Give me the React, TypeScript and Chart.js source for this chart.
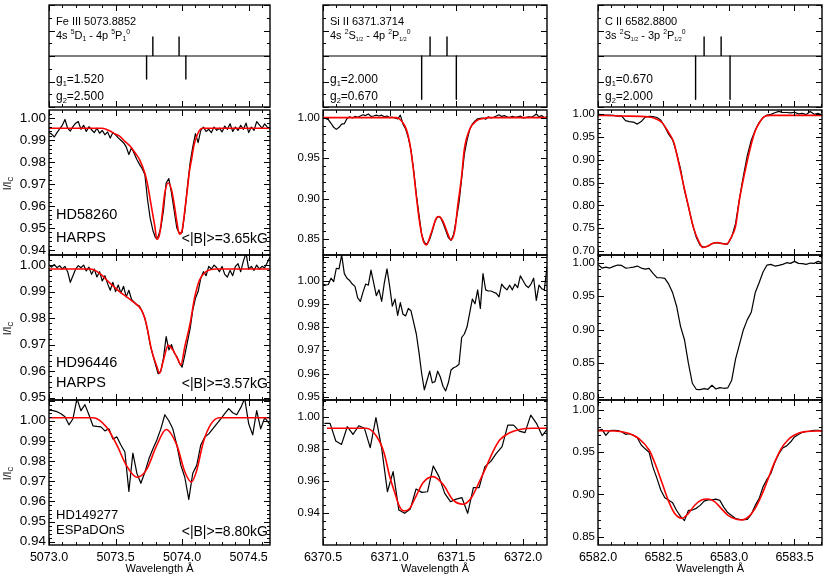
import React, { useEffect, useRef } from "react";
import { Chart, registerables } from "chart.js";
Chart.register(...registerables);

const W = 830;
const H = 581;
const FONT = "'Liberation Sans', Arial, Helvetica, sans-serif";

// ------------------------------------------------------------------ data
// wavelength ranges of the three columns
const FE_RANGE = [5073.0, 5074.66];
const SI_RANGE = [6370.5, 6372.18];
const C_RANGE = [6582.0, 6583.71];

// x tick labels
const FE_XTICKS = ["5073.0", "5073.5", "5074.0", "5074.5"];
const SI_XTICKS = ["6370.5", "6371.0", "6371.5", "6372.0"];
const C_XTICKS = ["6582.0", "6582.5", "6583.0", "6583.5"];

// y tick labels per panel
const FE_YTICKS = [
  ["0.94", "0.95", "0.96", "0.97", "0.98", "0.99", "1.00"],
  ["0.95", "0.96", "0.97", "0.98", "0.99", "1.00"],
  ["0.94", "0.95", "0.96", "0.97", "0.98", "0.99", "1.00"],
];
const SI_YTICKS = [
  ["0.85", "0.90", "0.95", "1.00"],
  ["0.95", "0.96", "0.97", "0.98", "0.99", "1.00"],
  ["0.94", "0.96", "0.98", "1.00"],
];
const C_YTICKS = [
  ["0.70", "0.75", "0.80", "0.85", "0.90", "0.95", "1.00"],
  ["0.80", "0.85", "0.90", "0.95", "1.00"],
  ["0.85", "0.90", "0.95", "1.00"],
];

// Zeeman patterns (pi up, sigma down)
const FE_PI_WL = [5073.78, 5073.977];
const FE_PI_STR = [0.38, 0.38];
const FE_SIGMA_WL = [5073.733, 5074.028];
const FE_SIGMA_STR = [-0.45, -0.45];
const SI_PI_WL = [6371.303, 6371.43];
const SI_PI_STR = [0.38, 0.38];
const SI_SIGMA_WL = [6371.24, 6371.50];
const SI_SIGMA_STR = [-0.85, -0.85];
const C_PI_WL = [6582.81, 6582.94];
const C_PI_STR = [0.38, 0.38];
const C_SIGMA_WL = [6582.745, 6583.008];
const C_SIGMA_STR = [-0.85, -0.85];

// ---- Fe III 5073.89
const FE_HD58260_START = 5073.0;
const FE_HD58260_STEP = 0.02;
const FE_HD58260_OBS = [
  0.9935, 0.9928, 0.9915, 0.9935, 0.9952, 0.9968, 0.9995, 0.9955, 0.9942, 0.9962,
  0.9978, 0.9985, 0.9950, 0.9968, 0.9940, 0.9962, 0.9948, 0.9935, 0.9955, 0.9932,
  0.9945, 0.9925, 0.9938, 0.9910, 0.9935, 0.9925, 0.9911, 0.9900, 0.9889, 0.9870,
  0.9835, 0.9866, 0.9840, 0.9812, 0.9790, 0.9770, 0.9744, 0.9630, 0.9545, 0.9490,
  0.9455, 0.9460, 0.9500, 0.9580, 0.9705, 0.9725, 0.9660, 0.9580, 0.9500, 0.9475,
  0.9480, 0.9570, 0.9690, 0.9797, 0.9870, 0.9930, 0.9889, 0.9945, 0.9960, 0.9940,
  0.9950, 0.9935, 0.9960, 0.9945, 0.9955, 0.9938, 0.9965, 0.9950, 0.9975, 0.9940,
  0.9960, 0.9945, 0.9968, 0.9950, 0.9978, 0.9935, 0.9960, 0.9945, 0.9985, 0.9970,
  0.9955, 0.9975, 0.9960, 0.9950,
];
const FE_HD58260_FIT_WL = [
  5073.0, 5073.4, 5073.45, 5073.5, 5073.53, 5073.57, 5073.61, 5073.65, 5073.68, 5073.72,
  5073.74, 5073.76, 5073.78, 5073.795, 5073.81, 5073.83, 5073.85, 5073.87, 5073.895, 5073.92,
  5073.94, 5073.96, 5073.98, 5074.0, 5074.02, 5074.04, 5074.055, 5074.07, 5074.09, 5074.11,
  5074.13, 5074.15, 5074.66,
];
const FE_HD58260_FIT = [
  0.9955, 0.9955, 0.9945, 0.9928, 0.9919, 0.9895, 0.9873, 0.9840, 0.9812, 0.9750,
  0.9700, 0.9630, 0.9560, 0.9507, 0.9448, 0.9470, 0.9560, 0.9660, 0.9705, 0.9675,
  0.9610, 0.9530, 0.9472, 0.9490, 0.9580, 0.9680, 0.9760, 0.9810, 0.9880, 0.9919,
  0.9945, 0.9955, 0.9955,
];

const FE_HD96446_START = 5073.0;
const FE_HD96446_STEP = 0.02;
const FE_HD96446_OBS = [
  1.0000, 0.9992, 1.0002, 0.9990, 0.9998, 0.9985, 0.9995, 0.9975, 0.9935, 0.9960,
  0.9985, 0.9998, 0.9990, 1.0000, 0.9978, 0.9992, 0.9965, 0.9985, 0.9955, 0.9975,
  0.9940, 0.9960, 0.9930, 0.9905, 0.9935, 0.9900, 0.9925, 0.9895, 0.9920, 0.9880,
  0.9905, 0.9870, 0.9860, 0.9850, 0.9845, 0.9825, 0.9800, 0.9755, 0.9700, 0.9660,
  0.9625, 0.9590, 0.9600, 0.9650, 0.9730, 0.9680, 0.9700, 0.9670, 0.9655, 0.9630,
  0.9615, 0.9660, 0.9710, 0.9760, 0.9830, 0.9875, 0.9900, 0.9950, 0.9975, 0.9960,
  0.9995, 0.9985, 1.0000, 0.9990, 0.9975, 0.9995, 0.9965, 0.9955, 0.9980, 0.9960,
  0.9995, 1.0005, 0.9975, 1.0015, 1.0045, 0.9985, 0.9995, 0.9980, 1.0000, 0.9985,
  0.9995, 0.9990, 1.0010, 1.0030,
];
const FE_HD96446_FIT_WL = [
  5073.0, 5073.31, 5073.38, 5073.46, 5073.53, 5073.63, 5073.695, 5073.73, 5073.77, 5073.81,
  5073.83, 5073.86, 5073.895, 5073.93, 5073.97, 5073.99, 5074.02, 5074.06, 5074.095, 5074.13,
  5074.18, 5074.26, 5074.66,
];
const FE_HD96446_FIT = [
  0.9985, 0.9985, 0.9969, 0.9931, 0.9900, 0.9862, 0.9830, 0.9780, 0.9680, 0.9617,
  0.9592, 0.9642, 0.9697, 0.9680, 0.9642, 0.9623, 0.9692, 0.9780, 0.9880, 0.9943,
  0.9975, 0.9985, 0.9985,
];

const FE_HD149277_START = 5073.0;
const FE_HD149277_STEP = 0.03;
const FE_HD149277_OBS = [
  1.0053, 1.0050, 1.0045, 1.0035, 1.0020, 0.9980, 1.0010, 1.0110, 1.0050, 1.0080,
  1.0030, 0.9975, 0.9972, 0.9970, 0.9950, 0.9960, 0.9910, 0.9920, 0.9880, 0.9845,
  0.9650, 0.9840, 0.9740, 0.9690, 0.9745, 0.9810, 0.9860, 0.9905, 0.9960, 1.0030,
  1.0000, 0.9960, 0.9880, 0.9780, 0.9720, 0.9610, 0.9740, 0.9780, 0.9880, 0.9920,
  0.9935, 0.9960, 0.9985, 1.0010, 1.0035, 1.0060, 1.0040, 1.0030, 1.0065, 1.0110,
  0.9985, 0.9930, 1.0050, 0.9960, 1.0015, 0.9990, 0.9950,
];
const FE_HD149277_FIT_WL = [
  5073.0, 5073.33, 5073.43, 5073.51, 5073.58, 5073.66, 5073.73, 5073.81, 5073.88, 5073.96,
  5074.02, 5074.07, 5074.11, 5074.16, 5074.22, 5074.28, 5074.66,
];
const FE_HD149277_FIT = [
  1.0015, 1.0015, 0.9970, 0.9879, 0.9780, 0.9720, 0.9755, 0.9879, 0.9957, 0.9879,
  0.9747, 0.9696, 0.9755, 0.9896, 0.9987, 1.0015, 1.0015,
];

// ---- Si II 6371.37
const SI_HD58260_START = 6370.5;
const SI_HD58260_STEP = 0.02;
const SI_HD58260_OBS = [
  1.0000, 0.9990, 0.9975, 0.9930, 0.9880, 0.9855, 0.9880, 0.9920, 0.9925, 0.9990,
  1.0010, 0.9995, 1.0015, 1.0005, 1.0020, 1.0035, 1.0025, 1.0045, 1.0015, 1.0020,
  1.0030, 1.0020, 1.0030, 1.0010, 1.0020, 1.0000, 1.0005, 0.9995, 0.9985, 1.0030,
  0.9920, 0.9860, 0.9750, 0.9600, 0.9350, 0.9050, 0.8800, 0.8560, 0.8460, 0.8435,
  0.8500, 0.8600, 0.8720, 0.8780, 0.8770, 0.8700, 0.8610, 0.8520, 0.8485, 0.8560,
  0.8750, 0.8950, 0.9250, 0.9550, 0.9720, 0.9850, 0.9920, 0.9960, 0.9985, 0.9990,
  0.9995, 0.9980, 1.0010, 0.9995, 1.0005, 1.0020, 1.0035, 1.0015, 1.0025, 1.0010,
  1.0000, 1.0015, 1.0005, 1.0010, 1.0020, 0.9995, 1.0000, 1.0010, 1.0005, 1.0020,
  1.0045, 1.0010, 1.0025, 1.0000, 1.0005,
];
const SI_HD58260_FIT_WL = [
  6370.5, 6371.05, 6371.09, 6371.125, 6371.15, 6371.175, 6371.2, 6371.225, 6371.25, 6371.275,
  6371.31, 6371.35, 6371.37, 6371.4, 6371.44, 6371.46, 6371.49, 6371.51, 6371.54, 6371.56,
  6371.6, 6371.65, 6371.7, 6371.75, 6372.18,
];
const SI_HD58260_FIT = [
  1.0, 1.0, 0.9959, 0.9855, 0.969, 0.94, 0.903, 0.87, 0.849, 0.843,
  0.857, 0.876, 0.878, 0.872, 0.855, 0.849, 0.862, 0.8905, 0.928, 0.961,
  0.9855, 0.996, 0.999, 1.0, 1.0,
];

const SI_HD96446_START = 6370.5;
const SI_HD96446_STEP = 0.02;
const SI_HD96446_OBS = [
  0.9985, 0.9981, 0.9983, 1.0010, 0.9995, 1.0053, 1.0050, 1.0110, 1.0030, 1.0010,
  1.0000, 0.9985, 0.9975, 0.9925, 0.9910, 0.9950, 0.9985, 0.9980, 1.0045, 0.9990,
  0.9935, 0.9960, 0.9910, 0.9990, 1.0050, 0.9975, 0.9890, 0.9920, 0.9850, 0.9905,
  0.9855, 0.9848, 0.9880, 0.9870, 0.9820, 0.9770, 0.9690, 0.9600, 0.9530, 0.9570,
  0.9610, 0.9560, 0.9565, 0.9610, 0.9585, 0.9545, 0.9525, 0.9560, 0.9615, 0.9625,
  0.9630, 0.9640, 0.9755, 0.9770, 0.9800, 0.9860, 0.9920, 0.9900, 0.9960, 0.9880,
  1.0030, 0.9960, 0.9955, 0.9955, 0.9950, 0.9945, 0.9930, 0.9985, 0.9970, 0.9960,
  0.9980, 0.9960, 0.9985, 0.9970, 1.0020, 1.0000, 0.9980, 0.9970, 0.9985, 1.0010,
  0.9915, 0.9980, 0.9965, 0.9960, 1.0060,
];

const SI_HD149277_START = 6370.51;
const SI_HD149277_STEP = 0.043;
const SI_HD149277_OBS = [
  0.9959, 0.9959, 0.9849, 0.9828, 0.9938, 0.9890, 0.9944, 0.9928, 0.9808, 0.9994,
  0.9805, 0.9534, 0.9659, 0.9420, 0.9400, 0.9427, 0.9551, 0.9530, 0.9534, 0.9694,
  0.9628, 0.9524, 0.9472, 0.9488, 0.9497, 0.9400, 0.9559, 0.9559, 0.9690, 0.9721,
  0.9772, 0.9814, 0.9948, 0.9948, 0.9911, 0.9901, 1.0010, 0.9959, 0.9882, 0.9928,
];
const SI_HD149277_FIT_WL = [
  6370.53, 6370.825, 6370.875, 6370.925, 6370.96, 6371.0, 6371.04, 6371.075, 6371.11, 6371.15,
  6371.2, 6371.25, 6371.325, 6371.4, 6371.475, 6371.55, 6371.61, 6371.675, 6371.725, 6371.775,
  6371.825, 6371.9, 6371.975, 6372.075, 6372.18,
];
const SI_HD149277_FIT = [
  0.9928, 0.9928, 0.9907, 0.9845, 0.977, 0.963, 0.9524, 0.944, 0.9414, 0.943,
  0.951, 0.959, 0.9628, 0.958, 0.9483, 0.9456, 0.9493, 0.960, 0.969, 0.9783,
  0.9855, 0.990, 0.9921, 0.9928, 0.9928,
];

// ---- C II 6582.88
const C_HD58260_START = 6582.0;
const C_HD58260_STEP = 0.03;
const C_HD58260_OBS = [
  1.0000, 0.9995, 0.9985, 0.9982, 0.9975, 0.9960, 0.9965, 0.9860, 0.9840, 0.9830,
  0.9785, 0.9840, 0.9940, 0.9955, 0.9950, 0.9930, 0.9870, 0.9730, 0.9560, 0.9440,
  0.9150, 0.8800, 0.8330, 0.7980, 0.7600, 0.7300, 0.7120, 0.7080, 0.7105, 0.7160,
  0.7180, 0.7170, 0.7160, 0.7150, 0.7300, 0.7600, 0.8150, 0.8650, 0.9100, 0.9430,
  0.9650, 0.9820, 0.9930, 0.9985, 1.0000, 1.0035, 1.0065, 1.0040, 1.0040, 1.0030,
  1.0045, 1.0010, 1.0020, 0.9995, 1.0060, 1.0000, 1.0020, 0.9990,
];
const C_HD58260_FIT_WL = [
  6582.0, 6582.18, 6582.39, 6582.44, 6582.49, 6582.54, 6582.58, 6582.61, 6582.65, 6582.69,
  6582.73, 6582.77, 6582.80, 6582.84, 6582.88, 6582.91, 6582.94, 6582.98, 6583.02, 6583.05,
  6583.08, 6583.12, 6583.16, 6583.20, 6583.24, 6583.27, 6583.32, 6583.71,
];
const C_HD58260_FIT = [
  0.9978, 0.9963, 0.9941, 0.9904, 0.9816, 0.9596, 0.9375, 0.9007, 0.849, 0.798,
  0.750, 0.7206, 0.7074, 0.711, 0.7169, 0.7184, 0.7162, 0.7147, 0.7316, 0.754,
  0.8125, 0.8713, 0.9228, 0.9632, 0.9853, 0.9949, 0.9978, 0.9978,
];

const C_HD96446_START = 6582.0;
const C_HD96446_STEP = 0.03;
const C_HD96446_OBS = [
  0.9975, 0.9920, 0.9935, 0.9920, 0.9945, 0.9965, 0.9960, 0.9920, 0.9925, 0.9935,
  0.9950, 0.9920, 0.9905, 0.9915, 0.9840, 0.9776, 0.9775, 0.9765, 0.9680, 0.9550,
  0.9350, 0.9050, 0.8850, 0.8500, 0.8200, 0.8110, 0.8105, 0.8120, 0.8110, 0.8170,
  0.8115, 0.8135, 0.8125, 0.8130, 0.8240, 0.8560, 0.8780, 0.9000, 0.9150, 0.9260,
  0.9550, 0.9700, 0.9860, 0.9965, 0.9975, 0.9950, 0.9960, 0.9975, 1.0000, 0.9990,
  1.0020, 0.9990, 0.9985, 0.9975, 0.9995, 0.9990, 1.0020, 1.0000,
];

const C_HD149277_START = 6582.0;
const C_HD149277_STEP = 0.03;
const C_HD149277_OBS = [
  0.9755, 0.9770, 0.9700, 0.9755, 0.9760, 0.9755, 0.9742, 0.9712, 0.9718, 0.9700,
  0.9672, 0.9585, 0.9540, 0.9500, 0.9320, 0.9190, 0.9050, 0.8960, 0.8930, 0.8900,
  0.8810, 0.8740, 0.8690, 0.8810, 0.8815, 0.8835, 0.8870, 0.8920, 0.8935, 0.8935,
  0.8945, 0.8930, 0.8850, 0.8785, 0.8750, 0.8715, 0.8705, 0.8700, 0.8705, 0.8765,
  0.8870, 0.8950, 0.9090, 0.9180, 0.9250, 0.9380, 0.9480, 0.9550, 0.9575, 0.9620,
  0.9680, 0.9710, 0.9735, 0.9745, 0.9750, 0.9760, 0.9760, 0.9750,
];
const C_HD149277_FIT_WL = [
  6582.0, 6582.13, 6582.23, 6582.31, 6582.39, 6582.44, 6582.49, 6582.54, 6582.59, 6582.64,
  6582.69, 6582.74, 6582.79, 6582.84, 6582.89, 6582.94, 6582.99, 6583.05, 6583.10, 6583.15,
  6583.20, 6583.25, 6583.30, 6583.35, 6583.40, 6583.45, 6583.50, 6583.58, 6583.71,
];
const C_HD149277_FIT = [
  0.9755, 0.9751, 0.9724, 0.9664, 0.9526, 0.9349, 0.9131, 0.8914, 0.8764, 0.8717,
  0.8776, 0.8875, 0.8934, 0.8946, 0.8915, 0.8835, 0.8756, 0.8709, 0.8697, 0.8737,
  0.8835, 0.8993, 0.9190, 0.9388, 0.9546, 0.9645, 0.9704, 0.9743, 0.9751,
];

// y ranges of the spectrum panels [min, max]
const Y_FE = [[0.9377, 1.0038], [0.9491, 1.0038], [0.9384, 1.0103]];
const Y_SI = [[0.8305, 1.0094], [0.9486, 1.011], [0.9203, 1.0104]];
const Y_C = [[0.691, 1.0095], [0.795, 1.0115], [0.8401, 1.0118]];
// major / minor y tick steps
const YT_FE = [[0.01, 0.002], [0.01, 0.002], [0.01, 0.002]];
const YT_SI = [[0.05, 0.01], [0.01, 0.002], [0.02, 0.005]];
const YT_C = [[0.05, 0.01], [0.05, 0.01], [0.05, 0.01]];

// texts
const STARS = ["HD58260", "HD96446", "HD149277"];
const INSTR = ["HARPS", "HARPS", "ESPaDOnS"];
const FIELDS = ["3.65", "3.57", "8.80"];

// ------------------------------------------------------------------ layout
const COLS = [
  [49, 270],
  [323, 547],
  [598, 822],
];
const ROWS = [
  [5, 107],
  [110, 255],
  [255, 400],
  [400, 545],
];

type Pt = { x: number; y: number | null };
type Series = { pts: Pt[]; color: string; width: number; smooth?: boolean };
type Rich = [string, number][];
type TextItem = { segs: Rich; x: number; y: number; size: number; align?: "left" | "right" | "center" };
interface Panel {
  box: number[];
  xr: number[];
  yr: number[];
  yMajor: number;
  yMinor: number;
  yLabels: string[];
  yLabelSize: number;
  xLabels: string[];
  yTitle: boolean;
  series: Series[];
  texts: TextItem[];
}

const uniform = (start: number, step: number, vals: number[]): Pt[] =>
  vals.map((v, i) => ({ x: start + i * step, y: v }));
const paired = (wl: number[], vals: number[]): Pt[] => wl.map((w, i) => ({ x: w, y: vals[i] }));
const sticks = (wl: number[], str: number[]): Pt[] => {
  const out: Pt[] = [];
  wl.forEach((w, i) => {
    out.push({ x: w, y: 0 }, { x: w, y: str[i] }, { x: w, y: null });
  });
  return out;
};

const BLACK = "#000000";
const RED = "#ff0000";

function topPanel(ci: number, xr: number[], piWl: number[], piS: number[], sgWl: number[], sgS: number[], title: string, term: Rich, g1: string, g2: string): Panel {
  const [l] = COLS[ci];
  return {
    box: [COLS[ci][0], ROWS[0][0], COLS[ci][1], ROWS[0][1]],
    xr,
    yr: [-1, 1],
    yMajor: 0.5,
    yMinor: 0.25,
    yLabels: [],
    yLabelSize: 0,
    xLabels: [],
    yTitle: false,
    series: [
      { pts: [{ x: xr[0], y: 0 }, { x: xr[1], y: 0 }], color: BLACK, width: 1.2 },
      { pts: sticks(piWl, piS), color: BLACK, width: 1.4 },
      { pts: sticks(sgWl, sgS), color: BLACK, width: 1.4 },
    ],
    texts: [
      { segs: [[title, 0]], x: l + 7, y: 21.5, size: 11 },
      { segs: term, x: l + 7, y: 36, size: 11 },
      { segs: [["g", 0], ["1", -1], ["=" + g1, 0]], x: l + 7, y: 80, size: 12 },
      { segs: [["g", 0], ["2", -1], ["=" + g2, 0]], x: l + 7, y: 97, size: 12 },
    ],
  };
}

function specPanel(ci: number, ri: number, xr: number[], yr: number[], yt: number[], yLabels: string[], xLabels: string[], series: Series[]): Panel {
  const [l, r] = COLS[ci];
  const [t, b] = ROWS[ri + 1];
  const texts: TextItem[] = [];
  if (ci === 0) {
    const big = ri === 2 ? 13 : 14.5;
    const y1 = ri === 0 ? 215 : ri === 1 ? 363 : 515;
    const y2 = ri === 0 ? 238 : ri === 1 ? 383 : 530.5;
    texts.push({ segs: [[STARS[ri], 0]], x: l + 7, y: y1, size: big });
    texts.push({ segs: [[INSTR[ri], 0]], x: l + 7, y: y2, size: big });
    texts.push({ segs: [["<|B|>=" + FIELDS[ri] + "kG", 0]], x: r - 2, y: y2 + 1.5, size: 14, align: "right" });
  }
  return {
    box: [l, t, r, b],
    xr,
    yr,
    yMajor: yt[0],
    yMinor: yt[1],
    yLabels,
    yLabelSize: ci === 0 ? 13.5 : 11.5,
    xLabels: ri === 2 ? xLabels : [],
    yTitle: ci === 0,
    series,
    texts,
  };
}

const obs = (pts: Pt[]): Series => ({ pts, color: BLACK, width: 1.2 });
const fit = (pts: Pt[]): Series => ({ pts, color: RED, width: 1.6, smooth: true });

const PANELS: Panel[] = [
  topPanel(0, FE_RANGE, FE_PI_WL, FE_PI_STR, FE_SIGMA_WL, FE_SIGMA_STR, "Fe III 5073.8852",
    [["4s ", 0], ["5", 1], ["D", 0], ["1", -1], [" - 4p ", 0], ["5", 1], ["P", 0], ["1", -1], ["0", 1]], "1.520", "2.500"),
  topPanel(1, SI_RANGE, SI_PI_WL, SI_PI_STR, SI_SIGMA_WL, SI_SIGMA_STR, "Si II 6371.3714",
    [["4s ", 0], ["2", 1], ["S", 0], ["1/2", -2], [" - 4p ", 0], ["2", 1], ["P", 0], ["1/2", -2], ["0", 1]], "2.000", "0.670"),
  topPanel(2, C_RANGE, C_PI_WL, C_PI_STR, C_SIGMA_WL, C_SIGMA_STR, "C II 6582.8800",
    [["3s ", 0], ["2", 1], ["S", 0], ["1/2", -2], [" - 3p ", 0], ["2", 1], ["P", 0], ["1/2", -2], ["0", 1]], "0.670", "2.000"),

  specPanel(0, 0, FE_RANGE, Y_FE[0], YT_FE[0], FE_YTICKS[0], FE_XTICKS, [
    fit(paired(FE_HD58260_FIT_WL, FE_HD58260_FIT)),
    obs(uniform(FE_HD58260_START, FE_HD58260_STEP, FE_HD58260_OBS)),
  ]),
  specPanel(0, 1, FE_RANGE, Y_FE[1], YT_FE[1], FE_YTICKS[1], FE_XTICKS, [
    fit(paired(FE_HD96446_FIT_WL, FE_HD96446_FIT)),
    obs(uniform(FE_HD96446_START, FE_HD96446_STEP, FE_HD96446_OBS)),
  ]),
  specPanel(0, 2, FE_RANGE, Y_FE[2], YT_FE[2], FE_YTICKS[2], FE_XTICKS, [
    fit(paired(FE_HD149277_FIT_WL, FE_HD149277_FIT)),
    obs(uniform(FE_HD149277_START, FE_HD149277_STEP, FE_HD149277_OBS)),
  ]),
  specPanel(1, 0, SI_RANGE, Y_SI[0], YT_SI[0], SI_YTICKS[0], SI_XTICKS, [
    fit(paired(SI_HD58260_FIT_WL, SI_HD58260_FIT)),
    obs(uniform(SI_HD58260_START, SI_HD58260_STEP, SI_HD58260_OBS)),
  ]),
  specPanel(1, 1, SI_RANGE, Y_SI[1], YT_SI[1], SI_YTICKS[1], SI_XTICKS, [
    obs(uniform(SI_HD96446_START, SI_HD96446_STEP, SI_HD96446_OBS)),
  ]),
  specPanel(1, 2, SI_RANGE, Y_SI[2], YT_SI[2], SI_YTICKS[2], SI_XTICKS, [
    fit(paired(SI_HD149277_FIT_WL, SI_HD149277_FIT)),
    obs(uniform(SI_HD149277_START, SI_HD149277_STEP, SI_HD149277_OBS)),
  ]),
  specPanel(2, 0, C_RANGE, Y_C[0], YT_C[0], C_YTICKS[0], C_XTICKS, [
    fit(paired(C_HD58260_FIT_WL, C_HD58260_FIT)),
    obs(uniform(C_HD58260_START, C_HD58260_STEP, C_HD58260_OBS)),
  ]),
  specPanel(2, 1, C_RANGE, Y_C[1], YT_C[1], C_YTICKS[1], C_XTICKS, [
    obs(uniform(C_HD96446_START, C_HD96446_STEP, C_HD96446_OBS)),
  ]),
  specPanel(2, 2, C_RANGE, Y_C[2], YT_C[2], C_YTICKS[2], C_XTICKS, [
    fit(paired(C_HD149277_FIT_WL, C_HD149277_FIT)),
    obs(uniform(C_HD149277_START, C_HD149277_STEP, C_HD149277_OBS)),
  ]),
];

// ------------------------------------------------------------------ drawing helpers
function segSize(m: number, size: number) {
  return m === 0 ? size : m === -2 ? size * 0.48 : size * 0.62;
}
function richWidth(ctx: CanvasRenderingContext2D, segs: Rich, size: number) {
  let w = 0;
  for (const [t, m] of segs) {
    ctx.font = `${segSize(m, size)}px ${FONT}`;
    w += ctx.measureText(t).width;
  }
  return w;
}
function drawRich(ctx: CanvasRenderingContext2D, segs: Rich, x: number, y: number, size: number, align = "left") {
  const w = richWidth(ctx, segs, size);
  let cx = align === "right" ? x - w : align === "center" ? x - w / 2 : x;
  ctx.textAlign = "left";
  ctx.textBaseline = "middle";
  for (const [t, m] of segs) {
    const dy = m === 1 ? -size * 0.36 : m < 0 ? size * 0.3 : 0;
    ctx.font = `${segSize(m, size)}px ${FONT}`;
    ctx.fillText(t, cx, y + dy);
    cx += ctx.measureText(t).width;
  }
}

function makeFramePlugin(p: Panel) {
  return {
    id: "frame",
    afterDraw(chart: any) {
      const ctx: CanvasRenderingContext2D = chart.ctx;
      const a = chart.chartArea;
      const xs = chart.scales.x;
      const ys = chart.scales.y;
      ctx.save();
      ctx.strokeStyle = BLACK;
      ctx.fillStyle = BLACK;
      ctx.lineWidth = 1;
      const seg = (x1: number, y1: number, x2: number, y2: number) => {
        ctx.beginPath();
        ctx.moveTo(x1, y1);
        ctx.lineTo(x2, y2);
        ctx.stroke();
      };
      // x ticks: minor 0.1, major 0.5
      const xi0 = Math.ceil(p.xr[0] * 10 - 1e-6);
      const xi1 = Math.floor(p.xr[1] * 10 + 1e-6);
      for (let i = xi0; i <= xi1; i++) {
        const px = Math.round(xs.getPixelForValue(i / 10)) + 0.5;
        const L = i % 5 === 0 ? 6 : 3;
        seg(px, a.bottom, px, a.bottom - L);
        seg(px, a.top, px, a.top + L);
      }
      ctx.font = `12.5px ${FONT}`;
      ctx.textAlign = "center";
      ctx.textBaseline = "middle";
      for (const lab of p.xLabels) {
        ctx.fillText(lab, xs.getPixelForValue(parseFloat(lab)), a.bottom + 12.5);
      }
      // y ticks
      const ratio = Math.round(p.yMajor / p.yMinor);
      const yi0 = Math.ceil(p.yr[0] / p.yMinor - 1e-6);
      const yi1 = Math.floor(p.yr[1] / p.yMinor + 1e-6);
      for (let i = yi0; i <= yi1; i++) {
        const py = Math.round(ys.getPixelForValue(i * p.yMinor)) + 0.5;
        const major = ((i % ratio) + ratio) % ratio === 0;
        const L = major ? 6 : 3;
        seg(a.left, py, a.left + L, py);
        seg(a.right, py, a.right - L, py);
      }
      ctx.font = `${p.yLabelSize}px ${FONT}`;
      ctx.textAlign = "right";
      ctx.textBaseline = "middle";
      for (const lab of p.yLabels) {
        ctx.fillText(lab, a.left - 3, ys.getPixelForValue(parseFloat(lab)));
      }
      // frame
      ctx.lineWidth = 1.4;
      ctx.strokeRect(a.left, a.top, a.right - a.left, a.bottom - a.top);
      // axis titles
      if (p.xLabels.length) {
        ctx.font = `11px ${FONT}`;
        ctx.textAlign = "center";
        ctx.textBaseline = "middle";
        ctx.fillText("Wavelength \u00c5", (a.left + a.right) / 2, a.bottom + 24);
      }
      if (p.yTitle) {
        ctx.save();
        ctx.translate(8.5, (a.top + a.bottom) / 2 + 1);
        ctx.rotate(-Math.PI / 2);
        drawRich(ctx, [["I/I", 0], ["C", -1]], 0, 0, 10.5, "center");
        ctx.restore();
      }
      for (const t of p.texts) drawRich(ctx, t.segs, t.x, t.y, t.size, t.align || "left");
      ctx.restore();
    },
  };
}

function makeChart(canvas: HTMLCanvasElement, p: Panel) {
  const [l, t, r, b] = p.box;
  return new Chart(canvas, {
    type: "line",
    data: {
      datasets: p.series.map((s) => ({
        data: s.pts as any,
        borderColor: s.color,
        borderWidth: s.width,
        pointRadius: 0,
        fill: false,
        spanGaps: false,
        tension: s.smooth ? 0.4 : 0,
        cubicInterpolationMode: s.smooth ? ("monotone" as const) : ("default" as const),
        borderJoinStyle: "round" as const,
      })),
    },
    options: {
      responsive: false,
      animation: false,
      devicePixelRatio: 1,
      events: [],
      layout: { padding: { left: l, top: t, right: W - r, bottom: H - b } },
      scales: {
        x: { type: "linear", min: p.xr[0], max: p.xr[1], display: false },
        y: { type: "linear", min: p.yr[0], max: p.yr[1], display: false },
      },
      plugins: { legend: { display: false }, tooltip: { enabled: false } },
    },
    plugins: [makeFramePlugin(p)],
  });
}

export default function App() {
  const refs = useRef<(HTMLCanvasElement | null)[]>([]);
  useEffect(() => {
    const charts = PANELS.map((p, i) => makeChart(refs.current[i] as HTMLCanvasElement, p));
    return () => charts.forEach((c) => c.destroy());
  }, []);
  return (
    <div style={{ position: "absolute", left: 0, top: 0, width: W, height: H, background: "#ffffff", overflow: "hidden" }}>
      {PANELS.map((_, i) => (
        <canvas
          key={i}
          ref={(el) => {
            refs.current[i] = el;
          }}
          width={W}
          height={H}
          style={{ position: "absolute", left: 0, top: 0, width: W, height: H }}
        />
      ))}
    </div>
  );
}
